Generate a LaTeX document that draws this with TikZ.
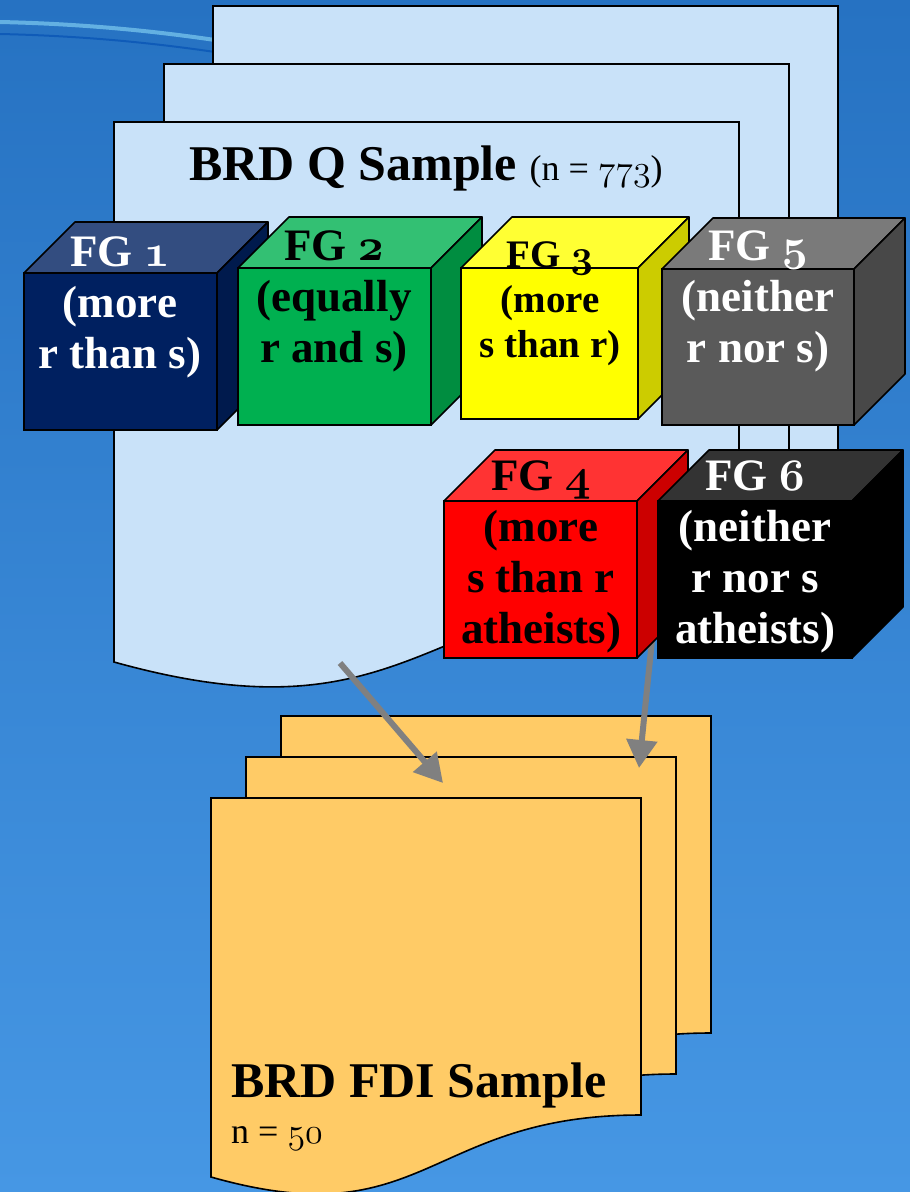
\RequirePackage{fix-cm}
\documentclass[tikz,border=0pt]{standalone}
\usepackage{fontspec}
\setmainfont{Liberation Serif}
\usetikzlibrary{arrows.meta}

\definecolor{skytop}{HTML}{2672C2}
\definecolor{skymid}{HTML}{6CB6F5}
\definecolor{skybot}{HTML}{4697E4}
\definecolor{qblue}{HTML}{C9E2F9}
\definecolor{fdiorange}{HTML}{FFCB66}
\definecolor{arrowgray}{HTML}{808080}
\definecolor{navyfront}{HTML}{002060}
\definecolor{navytop}{HTML}{334D80}
\definecolor{navyside}{HTML}{001A4D}
\definecolor{greenfront}{HTML}{00B050}
\definecolor{greentop}{HTML}{33C073}
\definecolor{greenside}{HTML}{008D40}
\definecolor{yellowfront}{HTML}{FFFF00}
\definecolor{yellowtop}{HTML}{FFFF33}
\definecolor{yellowside}{HTML}{CCCC00}
\definecolor{grayfront}{HTML}{5A5A5A}
\definecolor{graytop}{HTML}{7A7A7A}
\definecolor{grayside}{HTML}{484848}
\definecolor{redfront}{HTML}{FF0000}
\definecolor{redtop}{HTML}{FF3333}
\definecolor{redside}{HTML}{CC0000}
\definecolor{blackfront}{HTML}{000000}
\definecolor{blacktop}{HTML}{333333}
\definecolor{blackside}{HTML}{000000}

% old style figures
\newcommand{\onum}[1]{{\fontencoding{OML}\fontfamily{cmm}\fontshape{it}\selectfont #1}}

% front face as node, top and side faces from its anchors
\newcommand{\fgcube}[8]{%
  \node[cubefront, fill=#6, minimum width=#4pt, minimum height=#5pt, anchor=north west] (#1) at (#2,#3) {};
  \draw[cubeedge, fill=#7] (#1.north west) -- ++(51,-51) -- ++(#4,0) -- (#1.north east) -- cycle;
  \draw[cubeedge, fill=#8] (#1.north east) -- ++(51,-51) -- ++(0,#5) -- (#1.south east) -- cycle;
}

\tikzset{
  qsheet/.style={draw=black, line width=1.6pt, fill=qblue},
  fdisheet/.style={draw=black, line width=1.6pt, fill=fdiorange},
  cubefront/.style={draw=black, line width=1.6pt, inner sep=0pt, outer sep=0pt},
  cubeedge/.style={draw=black, line width=1.6pt, line join=round},
  fgtext/.style={font=\fontsize{45}{51}\selectfont\bfseries, align=center, anchor=base, inner sep=0pt},
  flowarrow/.style={draw=arrowgray, line width=6pt, -{Triangle[length=28pt, width=30pt]}},
  streak/.style={line width=4pt, opacity=0.6}
}

\begin{document}
\begin{tikzpicture}[x=1pt, y=-1pt]
  \useasboundingbox (0,0) rectangle (910,1192);
  \fill[top color=skytop, middle color=skymid, bottom color=skybot] (0,0) rectangle (910,1192);
  \draw[streak, color=cyan!45!white] (0,22) .. controls (90,24) and (160,32) .. (215,40);
  \draw[streak, color=teal!60!blue, line width=2pt] (0,34) .. controls (90,36) and (160,44) .. (215,52);

  % Q sample sheets
  \foreach \dx/\dy in {99/-116, 50/-58, 0/0}
    \draw[qsheet, shift={(\dx,\dy)}] (114,122) -- (739,122) -- (739,580)
      .. controls (426,580) and (426,749) .. (114,662) -- cycle;
  \node[anchor=base, font=\fontsize{50}{56}\selectfont\bfseries, inner sep=0pt] (qtitle) at (426,180)
    {BRD Q Sample {\fontsize{36}{40}\selectfont\mdseries (n = \onum{773})}};

  % FDI sample sheets
  \foreach \dx/\dy in {70/-82, 35/-41, 0/0}
    \draw[fdisheet, shift={(\dx,\dy)}] (211,798) -- (641,798) -- (641,1115)
      .. controls (426,1115) and (426,1238) .. (211,1177) -- cycle;
  \node[anchor=base west, font=\fontsize{50}{56}\selectfont\bfseries, inner sep=0pt] (fdititle) at (231,1097) {BRD FDI Sample};
  \node[anchor=base west, font=\fontsize{36}{40}\selectfont, inner sep=0pt] (fdin) at (231,1143) {n = \onum{50}};

  % arrows
  \coordinate (qout) at (340,663);
  \coordinate (fdiin) at (443,783);
  \coordinate (fgout) at (652,640);
  \coordinate (fdiin2) at (639,768);
  \draw[flowarrow] (qout) -- (fdiin);
  \draw[flowarrow] (fgout) -- (fdiin2);

  % focus group cubes
  \fgcube{fg1}{24}{273}{193}{157}{navyfront}{navytop}{navyside}
  \fgcube{fg2}{238}{268}{193}{157}{greenfront}{greentop}{greenside}
  \fgcube{fg3}{461}{268}{177}{151}{yellowfront}{yellowtop}{yellowside}
  \fgcube{fg5}{662}{269}{192}{156}{grayfront}{graytop}{grayside}
  \fgcube{fg4}{444}{501}{193}{157}{redfront}{redtop}{redside}
  \fgcube{fg6}{658}{501}{194}{157}{blackfront}{blacktop}{blackside}

  % base anchor = last line
  \node[fgtext, text=white] (fg1t) at (120,368) {FG \onum{1}\\(more\\r than s)};
  \node[fgtext] (fg2t) at (334,362) {FG \onum{2}\\(equally\\r and s)};
  \node[fgtext, font=\fontsize{39}{45}\selectfont\bfseries] (fg3t) at (550,357) {FG \onum{3}\\(more\\s than r)};
  \node[fgtext, text=white] (fg5t) at (758,362) {FG \onum{5}\\(neither\\r nor s)};
  \node[fgtext] (fg4t) at (541,643) {FG \onum{4}\\(more\\s than r\\atheists)};
  \node[fgtext, text=white] (fg6t) at (755,643) {FG \onum{6}\\(neither\\r nor s\\atheists)};
\end{tikzpicture}
\end{document}
